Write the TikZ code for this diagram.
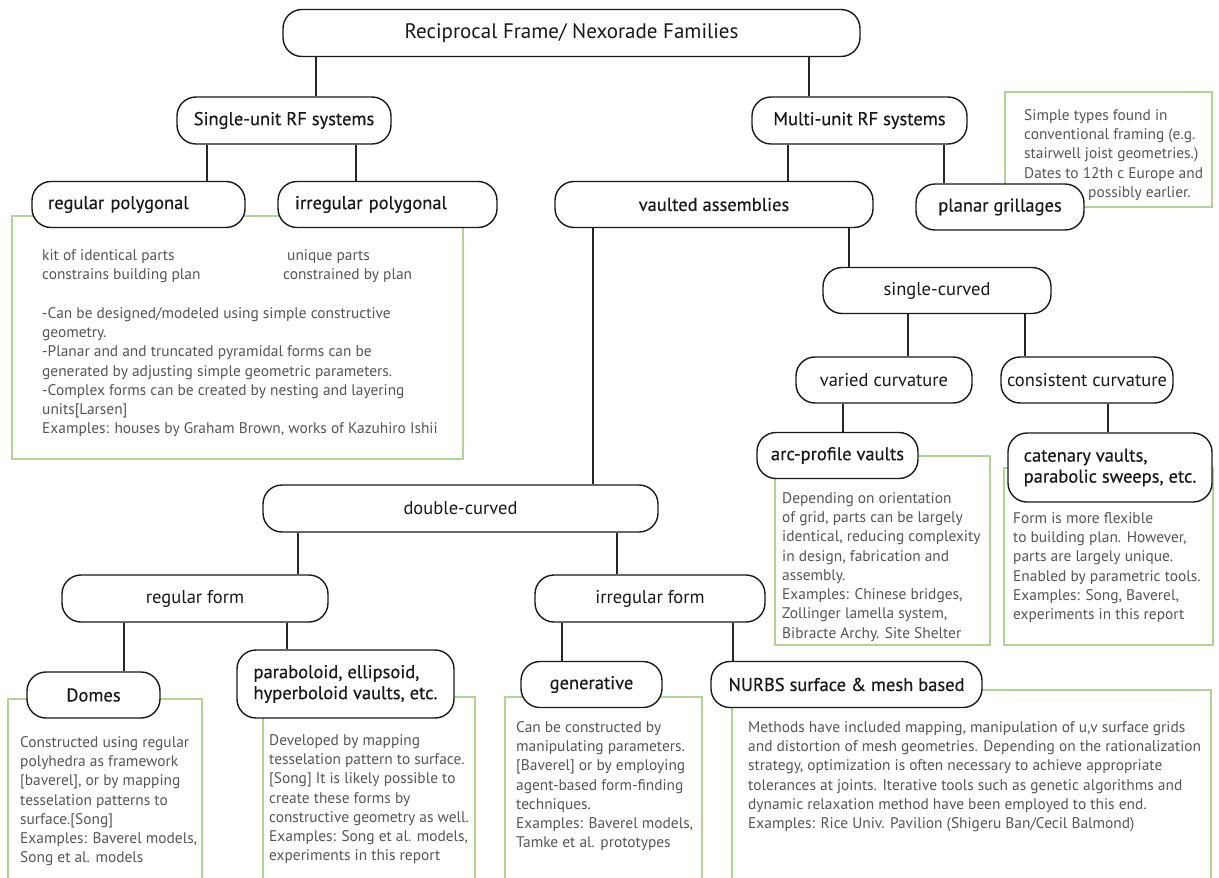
\documentclass[tikz,border=0pt]{standalone}
\usepackage{fontspec}
\setmainfont{PT Sans}
\newfontfamily\heavyfont{PT Sans}[FakeBold=0.4]
\usepackage{tikz}

\definecolor{framegreen}{RGB}{178,210,150}
\definecolor{notegray}{RGB}{85,85,85}

\tikzset{
	famnode/.style={draw=black!90, line width=1.4pt, rounded corners=19pt, fill=white,
		inner sep=0pt, text=black!90, font=\fontsize{18.5}{21}\selectfont},
	famheavy/.style={famnode, font=\heavyfont\fontsize{18.5}{21}\selectfont},
	padleft/.style={text width=#1, align=left},
	noteframe/.style={draw=framegreen, line width=1.3pt},
	note/.style={anchor=north west, inner sep=0pt, align=left, text=notegray,
		font=\fontsize{15.4}{19.3}\selectfont},
	link/.style={draw=black!85, line width=1.2pt}
}

\begin{document}
\begin{tikzpicture}[x=1pt,y=-1pt]
	\useasboundingbox (0,0) rectangle (1219,878);

	% green note frames
	\draw[noteframe] (12,216) rectangle (463,459);
	\draw[noteframe] (1005,92) rectangle (1212,207);
	\draw[noteframe] (775,456) rectangle (990,645);
	\draw[noteframe] (1004,468) rectangle (1213,645);
	\draw[noteframe] (8,699) rectangle (202,892);
	\draw[noteframe] (263,697) rectangle (475,892);
	\draw[noteframe] (505,697) rectangle (702,892);
	\draw[noteframe] (732,690) rectangle (1211,892);

	% family boxes
	\node[famnode, minimum width=577pt, minimum height=47pt, font=\fontsize{21}{24}\selectfont] (families) at (571.5,33) {Reciprocal Frame/ Nexorade Families};
	\node[famheavy, minimum width=214pt, minimum height=47pt] (single) at (284,120.5) {Single-unit RF systems};
	\node[famheavy, minimum width=215pt, minimum height=47pt] (multi) at (859.5,120.5) {Multi-unit RF systems};
	\node[famheavy, minimum width=213pt, minimum height=46pt, padleft=181pt] (regpoly) at (138.5,204.5) {regular polygonal};
	\node[famheavy, minimum width=219pt, minimum height=46pt, padleft=185pt] (irrpoly) at (387.5,204.5) {irregular polygonal};
	\node[famheavy, minimum width=318pt, minimum height=46pt] (vaulted) at (714,204.5) {vaulted assemblies};
	\node[famheavy, minimum width=168pt, minimum height=46pt] (planar) at (1000,207) {planar grillages};
	\node[famnode, minimum width=228pt, minimum height=46pt] (singlecurved) at (937,290.5) {single-curved};
	\node[famnode, minimum width=176pt, minimum height=46pt] (varied) at (884,380) {varied curvature};
	\node[famnode, minimum width=172pt, minimum height=46pt] (consistent) at (1087,380) {consistent curvature};
	\node[famheavy, minimum width=161pt, minimum height=46pt] (arcvault) at (837.5,455.5) {arc-profile vaults};
	\node[famheavy, minimum width=204pt, minimum height=69pt, align=left] (catenary) at (1110,467.5) {catenary vaults,\\parabolic sweeps, etc.};
	\node[famnode, minimum width=395pt, minimum height=47pt] (doublecurved) at (460.5,508.5) {double-curved};
	\node[famnode, minimum width=266pt, minimum height=47pt] (regform) at (195,598.5) {regular form};
	\node[famnode, minimum width=230pt, minimum height=47pt] (irrform) at (650,598.5) {irregular form};
	\node[famheavy, minimum width=133pt, minimum height=46pt] (domes) at (93.5,695) {Domes};
	\node[famheavy, minimum width=217pt, minimum height=68pt, align=left] (paravault) at (345.5,684) {paraboloid, ellipsoid,\\hyperboloid vaults, etc.};
	\node[famheavy, minimum width=141pt, minimum height=46pt] (generative) at (591.5,684.5) {generative};
	\node[famheavy, minimum width=271pt, minimum height=46pt] (nurbs) at (846.5,684.5) {NURBS surface \& mesh based};

	% tree links
	\draw[link] (316,0 |- families.south) -- (316,0 |- single.north);
	\draw[link] (809,0 |- families.south) -- (809,0 |- multi.north);
	\draw[link] (207,0 |- single.south) -- (207,0 |- regpoly.north);
	\draw[link] (356,0 |- single.south) -- (356,0 |- irrpoly.north);
	\draw[link] (788,0 |- multi.south) -- (788,0 |- vaulted.north);
	\draw[link] (944,0 |- multi.south) -- (944,0 |- planar.north);
	\draw[link] (849,0 |- vaulted.south) -- (849,0 |- singlecurved.north);
	\draw[link] (593,0 |- vaulted.south) -- (593,0 |- doublecurved.north);
	\draw[link] (908,0 |- singlecurved.south) -- (908,0 |- varied.north);
	\draw[link] (1025,0 |- singlecurved.south) -- (1025,0 |- consistent.north);
	\draw[link] (843,0 |- varied.south) -- (843,0 |- arcvault.north);
	\draw[link] (1108,0 |- consistent.south) -- (1108,0 |- catenary.north);
	\draw[link] (298,0 |- doublecurved.south) -- (298,0 |- regform.north);
	\draw[link] (617,0 |- doublecurved.south) -- (617,0 |- irrform.north);
	\draw[link] (124,0 |- regform.south) -- (124,0 |- domes.north);
	\draw[link] (287,0 |- regform.south) -- (287,0 |- paravault.north);
	\draw[link] (562,0 |- irrform.south) -- (562,0 |- generative.north);
	\draw[link] (733,0 |- irrform.south) -- (733,0 |- nurbs.north);

	% notes
	\node[note] (kitnote) at (42,249) {kit of identical parts\\constrains building plan};
	\node[note] (uniquenote) at (283,249) {\hspace*{4pt}unique parts\\constrained by plan};
	\node[note] (polynote) at (42,307) {-Can be designed/modeled using simple constructive\\geometry.\\-Planar and and truncated pyramidal forms can be\\generated by adjusting simple geometric parameters.\\-Complex forms can be created by nesting and layering\\units[Larsen]\\Examples: houses by Graham Brown, works of Kazuhiro Ishii};
	\node[note] (grillnote) at (1024,109) {Simple types found in\\conventional framing (e.g.\\stairwell joist geometries.)\\Dates to 12th c Europe and\\\hspace*{64pt}possibly earlier.};
	\node[note] (arcnote) at (782,492) {Depending on orientation\\of grid, parts can be largely\\identical, reducing complexity\\in design, fabrication and\\assembly.\\Examples: Chinese bridges,\\Zollinger lamella system,\\Bibracte Archy. Site Shelter};
	\node[note] (catnote) at (1013,512) {Form is more flexible\\to building plan. However,\\parts are largely unique.\\Enabled by parametric tools.\\Examples: Song, Baverel,\\experiments in this report};
	\node[note] (domenote) at (20,736) {Constructed using regular\\polyhedra as framework\\{[}baverel], or by mapping\\tesselation patterns to\\surface.[Song]\\Examples: Baverel models,\\Song et al. models};
	\node[note] (paranote) at (269,734) {Developed by mapping\\tesselation pattern to surface.\\{[}Song] It is likely possible to\\create these forms by\\constructive geometry as well.\\Examples: Song et al. models,\\experiments in this report};
	\node[note] (gennote) at (516,721) {Can be constructed by\\manipulating parameters.\\{[}Baverel] or by employing\\agent-based form-finding\\techniques.\\Examples: Baverel models,\\Tamke et al. prototypes};
	\node[note] (nurbsnote) at (748,721) {Methods have included mapping, manipulation of u,v surface grids\\and distortion of mesh geometries. Depending on the rationalization\\strategy, optimization is often necessary to achieve appropriate\\tolerances at joints. Iterative tools such as genetic algorithms and\\dynamic relaxation method have been employed to this end.\\Examples: Rice Univ. Pavilion (Shigeru Ban/Cecil Balmond)};
\end{tikzpicture}
\end{document}
